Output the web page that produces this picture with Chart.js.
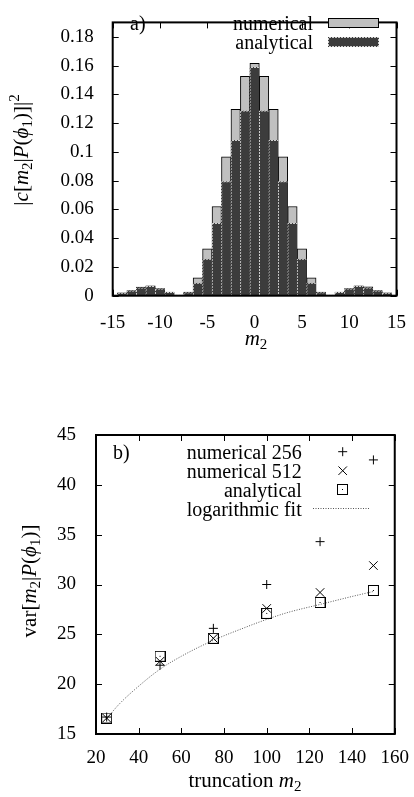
<!DOCTYPE html>
<html>
<head>
<meta charset="utf-8">
<script src="https://cdn.jsdelivr.net/npm/chart.js@4.4.1/dist/chart.umd.min.js"></script>
<style>
    body { margin: 0; background: #fff; }
    canvas { position: absolute; left: 0; }
    #topChart { top: 0; }
    #bottomChart { top: 400px; }
</style>
</head>
<body>
<canvas id="topChart" width="414" height="360"></canvas>
<canvas id="bottomChart" width="414" height="397"></canvas>
<script>
// a) distribution over m2
const mValues = [-14, -13, -12, -11, -10, -9, -8, -7, -6, -5, -4, -3, -2, -1, 0, 1, 2, 3, 4, 5, 6, 7, 8, 9, 10, 11, 12, 13, 14];
const numericalProb = [0.002, 0.0035, 0.006, 0.0068, 0.005, 0.0025, 0.0005, 0.0025, 0.0125, 0.0325, 0.062, 0.0965, 0.1295, 0.1525, 0.1615,
    0.1525, 0.1295, 0.0965, 0.062, 0.0325, 0.0125, 0.0025, 0.0005, 0.0025, 0.005, 0.0068, 0.0062, 0.0035, 0.002];
const analyticalProb = [0.0018, 0.0033, 0.0055, 0.0066, 0.0048, 0.0024, 0.0004, 0.0022, 0.0087, 0.0254, 0.0503, 0.0794, 0.108, 0.1286, 0.1588,
    0.1286, 0.108, 0.0794, 0.0503, 0.0254, 0.0087, 0.0022, 0.0004, 0.0024, 0.0048, 0.0066, 0.0055, 0.0033, 0.0018];
const topXTicks = [-15, -10, -5, 0, 5, 10, 15];
const topYTicks = [0, 0.02, 0.04, 0.06, 0.08, 0.1, 0.12, 0.14, 0.16, 0.18];

// b) variance vs truncation
const truncation = [25, 50, 75, 100, 125, 150];
const varNum256 = [16.7, 21.9, 25.6, 30.0, 34.3, 42.5];
const varNum512 = [16.6, 22.3, 24.6, 27.6, 29.2, 31.9];
const varAnalytical = [16.6, 22.8, 24.6, 27.1, 28.2, 29.4];
const fitX = [25, 30, 40, 50, 60, 75, 90, 100, 110, 125, 140, 150];
const fitY = [16.5, 17.8, 19.8, 21.5, 22.8, 24.4, 25.7, 26.5, 27.2, 28.0, 28.8, 29.3];

const FAM = "'Liberation Serif', 'DejaVu Serif', serif";

// dotted light edge for the analytical bars
function makeDotPattern() {
    const c = document.createElement('canvas');
    c.width = 3; c.height = 3;
    const g = c.getContext('2d');
    g.fillStyle = '#3c3c3c';
    g.fillRect(0, 0, 3, 3);
    g.fillStyle = '#cfcfcf';
    for (let i = 0; i < 3; i++) {
        for (let j = 0; j < 3; j++) {
            if ((i + j) % 3 < 2) g.fillRect(i, j, 1, 1);
        }
    }
    return document.createElement('canvas').getContext('2d').createPattern(c, 'repeat');
}
const dotPattern = makeDotPattern();

// box with a dot in the middle (gnuplot style)
function makeBoxMark() {
    const c = document.createElement('canvas');
    c.width = 11; c.height = 11;
    const g = c.getContext('2d');
    g.strokeStyle = '#000';
    g.lineWidth = 1;
    g.strokeRect(0.5, 0.5, 10, 10);
    g.fillStyle = '#000';
    g.fillRect(5, 5, 1, 1);
    return c;
}
const boxMark = makeBoxMark();

function drawRuns(ctx, runs, x, y, size, align) {
    const fontFor = r => (r[1] === 'i' ? 'italic ' : '') +
        ((r[1] === 'sub' || r[1] === 'sup') ? Math.round(size * 0.7) : size) + 'px ' + FAM;
    let w = 0;
    runs.forEach(r => { ctx.font = fontFor(r); w += ctx.measureText(r[0]).width; });
    let cx = align === 'right' ? x - w : align === 'center' ? x - w / 2 : x;
    ctx.textAlign = 'left';
    ctx.textBaseline = 'middle';
    ctx.fillStyle = '#000';
    runs.forEach(r => {
        ctx.font = fontFor(r);
        const dy = r[1] === 'sub' ? size * 0.3 : r[1] === 'sup' ? -size * 0.35 : 0;
        ctx.fillText(r[0], cx, y + 2 + dy);
        cx += ctx.measureText(r[0]).width;
    });
}

// inward ticks on all four sides plus the frame
const framePlugin = {
    id: 'frame',
    beforeDatasetsDraw(chart) {
        const { ctx, chartArea: a, scales: { x, y } } = chart;
        const len = 6;
        ctx.save();
        ctx.strokeStyle = '#000';
        ctx.lineWidth = 1;
        ctx.beginPath();
        x.ticks.forEach(t => {
            const px = Math.round(x.getPixelForValue(t.value)) + 0.5;
            ctx.moveTo(px, a.bottom); ctx.lineTo(px, a.bottom - len);
            ctx.moveTo(px, a.top); ctx.lineTo(px, a.top + len);
        });
        y.ticks.forEach(t => {
            const py = Math.round(y.getPixelForValue(t.value)) + 0.5;
            ctx.moveTo(a.left, py); ctx.lineTo(a.left + len, py);
            ctx.moveTo(a.right, py); ctx.lineTo(a.right - len, py);
        });
        ctx.stroke();
        ctx.restore();
    },
    afterDatasetsDraw(chart, args, opts) {
        const { ctx, chartArea: a } = chart;
        ctx.save();
        ctx.strokeStyle = '#000';
        ctx.lineWidth = 2;
        ctx.strokeRect(a.left, a.top, a.width, a.height);
        if (opts.extra) opts.extra(ctx, a);
        ctx.restore();
    }
};

function fixedScale(width, height) {
    return s => {
        if (width !== undefined) s.width = width;
        if (height !== undefined) s.height = height;
    };
}

const tickFont = { family: FAM, size: 19 };

new Chart(document.getElementById('topChart'), {
    type: 'bar',
    data: {
        datasets: [
            {
                label: 'numerical',
                data: mValues.map((m, i) => ({ x: m, y: numericalProb[i] })),
                backgroundColor: '#c0c0c0',
                borderColor: '#000',
                borderWidth: { top: 1, left: 1, right: 1, bottom: 0 },
                grouped: false,
                barPercentage: 1,
                categoryPercentage: 1,
                order: 2
            },
            {
                label: 'analytical',
                data: mValues.map((m, i) => ({ x: m, y: analyticalProb[i] })),
                backgroundColor: '#3c3c3c',
                borderColor: dotPattern,
                borderWidth: { top: 1, left: 1, right: 0, bottom: 0 },
                grouped: false,
                barPercentage: 1,
                categoryPercentage: 1,
                order: 1
            }
        ]
    },
    options: {
        responsive: false,
        animation: false,
        layout: { padding: { top: 7.3, right: 12, left: 0, bottom: 0 } },
        plugins: {
            legend: { display: false },
            tooltip: { enabled: false },
            frame: {
                extra: (ctx, a) => {
                    drawRuns(ctx, [['a)', '']], 130, 22.7, 20, 'left');
                    drawRuns(ctx, [['numerical', '']], 313, 22.7, 20, 'right');
                    drawRuns(ctx, [['analytical', '']], 313, 41.7, 20, 'right');
                    ctx.fillStyle = '#c0c0c0';
                    ctx.fillRect(328, 18, 50, 9);
                    ctx.strokeStyle = '#000';
                    ctx.lineWidth = 1;
                    ctx.strokeRect(328.5, 18.5, 50, 9);
                    ctx.fillStyle = '#3c3c3c';
                    ctx.fillRect(328, 37, 50, 9);
                    ctx.strokeStyle = dotPattern;
                    ctx.strokeRect(328.5, 37.5, 50, 9);
                    // axis titles
                    drawRuns(ctx, [['m', 'i'], ['2', 'sub']], 256, 337, 21, 'center');
                    ctx.save();
                    ctx.translate(22, 150);
                    ctx.rotate(-Math.PI / 2);
                    drawRuns(ctx, [['|', ''], ['c', 'i'], ['[', ''], ['m', 'i'], ['2', 'sub'], ['|', ''],
                        ['P', 'i'], ['(', ''], ['ϕ', 'i'], ['1', 'sub'], [')]|', ''], ['2', 'sup']], 0, -2, 21, 'center');
                    ctx.restore();
                }
            }
        },
        scales: {
            x: {
                type: 'linear',
                offset: false,
                min: -15,
                max: 15,
                afterFit: fixedScale(undefined, 64.3),
                grid: { display: false, offset: false },
                border: { display: false },
                ticks: {
                    stepSize: 5,
                    padding: 8,
                    color: '#000',
                    font: tickFont,
                    maxRotation: 0,
                    callback: v => topXTicks.includes(v) ? String(v) : ''
                }
            },
            y: {
                min: 0,
                max: 0.19,
                afterFit: fixedScale(112.7),
                grid: { display: false },
                border: { display: false },
                ticks: {
                    stepSize: 0.02,
                    includeBounds: false,
                    padding: 11,
                    color: '#000',
                    font: tickFont,
                    callback: v => {
                        const r = Math.round(v * 100) / 100;
                        return topYTicks.includes(r) ? String(r) : '';
                    }
                }
            }
        }
    },
    plugins: [framePlugin]
});

new Chart(document.getElementById('bottomChart'), {
    type: 'scatter',
    data: {
        datasets: [
            {
                label: 'numerical 256',
                data: truncation.map((t, i) => ({ x: t, y: varNum256[i] })),
                pointStyle: 'cross',
                pointRadius: 4.5,
                borderColor: '#000',
                borderWidth: 1
            },
            {
                label: 'numerical 512',
                data: truncation.map((t, i) => ({ x: t, y: varNum512[i] })),
                pointStyle: 'crossRot',
                pointRadius: 6,
                borderColor: '#000',
                borderWidth: 1
            },
            {
                label: 'analytical',
                data: truncation.map((t, i) => ({ x: t, y: varAnalytical[i] })),
                pointStyle: boxMark,
                pointRadius: 5
            },
            {
                label: 'logarithmic fit',
                data: fitX.map((t, i) => ({ x: t, y: fitY[i] })),
                showLine: true,
                pointRadius: 0,
                borderColor: '#555',
                borderWidth: 1,
                borderDash: [1, 1.5],
                cubicInterpolationMode: 'monotone'
            }
        ]
    },
    options: {
        responsive: false,
        animation: false,
        layout: { padding: { top: 35, right: 19, left: 0, bottom: 0 } },
        plugins: {
            legend: { display: false },
            tooltip: { enabled: false },
            frame: {
                extra: (ctx, a) => {
                    drawRuns(ctx, [['b)', '']], 113, 51.7, 20, 'left');
                    drawRuns(ctx, [['numerical 256', '']], 301.7, 51.7, 20, 'right');
                    drawRuns(ctx, [['numerical 512', '']], 301.7, 70.7, 20, 'right');
                    drawRuns(ctx, [['analytical', '']], 301.7, 89.3, 20, 'right');
                    drawRuns(ctx, [['logarithmic fit', '']], 301.7, 108.3, 20, 'right');
                    ctx.strokeStyle = '#000';
                    ctx.lineWidth = 1;
                    Chart.helpers.drawPoint(ctx, { pointStyle: 'cross', radius: 4.5, borderWidth: 1 }, 342.7, 51.7);
                    Chart.helpers.drawPoint(ctx, { pointStyle: 'crossRot', radius: 6, borderWidth: 1 }, 342.7, 70.7);
                    ctx.drawImage(boxMark, 337, 84);
                    ctx.strokeStyle = '#555';
                    ctx.setLineDash([1, 1.5]);
                    ctx.beginPath();
                    ctx.moveTo(313, 108.5);
                    ctx.lineTo(369, 108.5);
                    ctx.stroke();
                    ctx.setLineDash([]);
                    // axis titles
                    drawRuns(ctx, [['truncation ', ''], ['m', 'i'], ['2', 'sub']], 245, 379, 21, 'center');
                    ctx.save();
                    ctx.translate(30, 181);
                    ctx.rotate(-Math.PI / 2);
                    drawRuns(ctx, [['var[', ''], ['m', 'i'], ['2', 'sub'], ['|', ''], ['P', 'i'], ['(', ''],
                        ['ϕ', 'i'], ['1', 'sub'], [')]', '']], 0, -2, 21, 'center');
                    ctx.restore();
                }
            }
        },
        scales: {
            x: {
                type: 'linear',
                min: 20,
                max: 160,
                afterFit: fixedScale(undefined, 63),
                grid: { display: false },
                border: { display: false },
                ticks: { stepSize: 20, padding: 5, color: '#000', font: tickFont, maxRotation: 0 }
            },
            y: {
                min: 15,
                max: 45,
                afterFit: fixedScale(96),
                grid: { display: false },
                border: { display: false },
                ticks: { stepSize: 5, padding: 12, color: '#000', font: tickFont }
            }
        }
    },
    plugins: [framePlugin]
});
</script>
</body>
</html>
